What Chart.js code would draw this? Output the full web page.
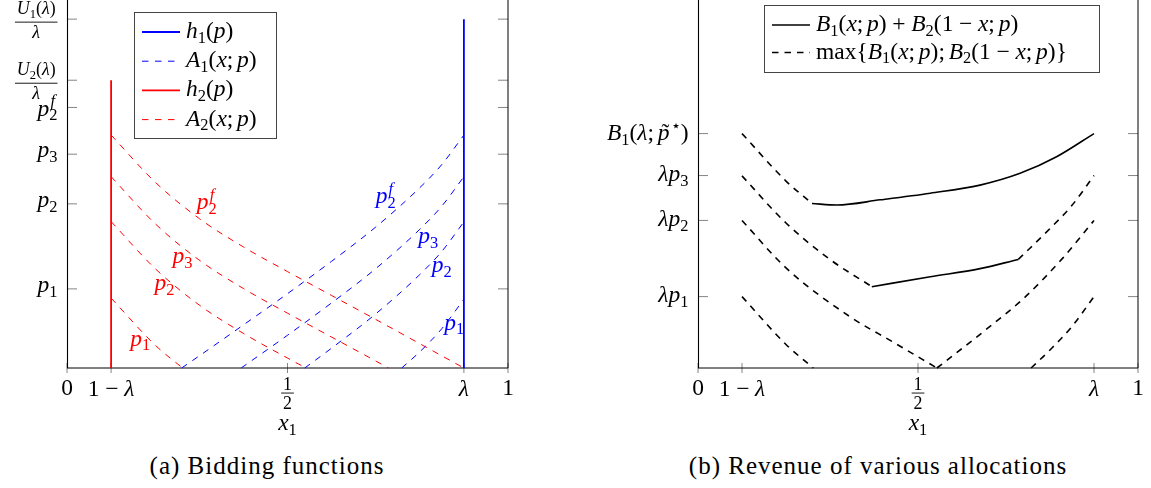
<!DOCTYPE html>
<html>
<head>
<meta charset="utf-8">
<script src="https://cdn.jsdelivr.net/npm/chart.js@4.4.1/dist/chart.umd.min.js"></script>
<style>
  html, body { margin: 0; padding: 0; background: #fff; }
  body { width: 1151px; height: 488px; position: relative; overflow: hidden; }
  canvas { position: absolute; top: 0; }
  #ca { left: 0; }
  #cb { left: 575px; }
  .cap { position: absolute; top: 453px; font-family: "Liberation Serif", "Times New Roman", serif;
         font-size: 25px; line-height: 25px; letter-spacing: 1px; white-space: nowrap; color: #000;
         transform: translateX(-50%); }
</style>
</head>
<body>
<canvas id="ca" width="575" height="440"></canvas>
<canvas id="cb" width="576" height="440"></canvas>
<div class="cap" style="left:267px">(a) Bidding functions</div>
<div class="cap" style="left:878px">(b) Revenue of various allocations</div>
<script>
// ================= DATA =================
// shared x axis (x1)
const xTickValues = [0, 0.1, 0.5, 0.9, 1];
const xTickLabels = ['0', '1 − λ', 'frac:1|2', 'λ', '1'];

// ---- panel (a): bidding functions ----
const aYTickValues = [94.8, 78.2, 70.8, 58.1, 44.6, 21.5];
const aYTickLabels = ['frac:U_1(λ)|λ', 'frac:U_2(λ)|λ', 'p_2^f', 'p_3', 'p_2', 'p_1'];

const h1X = [0.9, 0.9];
const h1Y = [0, 94.8];
const h2X = [0.1, 0.1];
const h2Y = [0, 78.2];

// A1(x;p) (blue) for p = p2^f, p3, p2, p1
const A1_p2f_x = [0.26, 0.3, 0.4, 0.5, 0.6, 0.7, 0.8, 0.85, 0.9];
const A1_p2f_y = [0, 3.3, 11.7, 20.2, 29.0, 38.3, 49.0, 55.3, 63.3];
const A1_p3_x = [0.395, 0.5, 0.6, 0.7, 0.8, 0.85, 0.9];
const A1_p3_y = [0, 8.9, 17.7, 27.0, 37.7, 44.0, 52.0];
const A1_p2_x = [0.539, 0.6, 0.7, 0.8, 0.85, 0.9];
const A1_p2_y = [0, 5.4, 14.7, 25.4, 31.7, 39.7];
const A1_p1_x = [0.759, 0.8, 0.85, 0.9];
const A1_p1_y = [0, 4.4, 10.7, 18.7];

// A2(x;p) (red) for p = p2^f, p3, p2, p1
const A2_p2f_x = [0.1, 0.2, 0.3, 0.4, 0.5, 0.6, 0.7, 0.8, 0.9];
const A2_p2f_y = [63.3, 50.5, 40.6, 32.9, 26.2, 19.7, 13.2, 6.6, 0];
const A2_p3_x = [0.1, 0.2, 0.3, 0.4, 0.5, 0.6, 0.7, 0.729];
const A2_p3_y = [52.0, 39.2, 29.3, 21.6, 14.9, 8.4, 1.9, 0];
const A2_p2_x = [0.1, 0.2, 0.3, 0.4, 0.5, 0.542];
const A2_p2_y = [39.8, 27.0, 17.1, 9.4, 2.7, 0];
const A2_p1_x = [0.1, 0.2, 0.262];
const A2_p1_y = [19.0, 6.2, 0];

// ---- panel (b): revenue of various allocations ----
const bYTickValues = [63.7, 52.3, 40.1, 19.4];
const bYTickLabels = ['B_1(λ;\u2009~p^⋆)', 'λp_3', 'λp_2', 'λp_1'];

// B1(x;p)+B2(1-x;p)
const sumHigh_x = [0.259, 0.316, 0.414, 0.528, 0.641, 0.732, 0.815, 0.9];
const sumHigh_y = [44.7, 44.3, 45.7, 47.5, 49.7, 52.9, 57.4, 63.7];
const sumMid_x = [0.395, 0.528, 0.641, 0.728];
const sumMid_y = [22.1, 24.8, 27.0, 29.5];
// max{B1(x;p); B2(1-x;p)}
const maxHighL_x = [0.1, 0.2, 0.259];
const maxHighL_y = [63.7, 50.8, 44.7];
const maxMidL_x = [0.1, 0.2, 0.3, 0.395];
const maxMidL_y = [52.2, 39.4, 29.5, 22.1];
const maxMidR_x = [0.728, 0.8, 0.85, 0.9];
const maxMidR_y = [29.5, 37.9, 44.2, 52.3];
const maxLowL_x = [0.1, 0.2, 0.346, 0.444, 0.543];
const maxLowL_y = [40.1, 27.2, 13.9, 7.0, 0];
const maxLowR_x = [0.543, 0.649, 0.74, 0.83, 0.9];
const maxLowR_y = [0, 9.9, 18.9, 30.0, 40.1];
const maxBotL_x = [0.1, 0.2, 0.262];
const maxBotL_y = [19.4, 6.4, 0];
const maxBotR_x = [0.757, 0.8, 0.85, 0.9];
const maxBotR_y = [0, 4.9, 11.3, 19.4];

// ================= MATH TEXT =================
const FAMILY = '"Liberation Serif", "Times New Roman", Times, "DejaVu Serif", serif';
const ITALIC_RE = /[A-Za-z\u03B1-\u03C9]/;
function fnt(size, italic) { return (italic ? 'italic ' : '') + size.toFixed(2) + 'px ' + FAMILY; }

function parseMath(str) {
  const toks = []; let i = 0;
  const readArg = () => {
    if (str[i] === '{') { const j = str.indexOf('}', i); const g = str.slice(i + 1, j); i = j + 1; return g; }
    const c = str[i]; i += 1; return c;
  };
  while (i < str.length) {
    const c = str[i];
    if (c === '_' || c === '^') { i += 1; toks.push({ text: readArg(), lvl: c === '_' ? 'sub' : 'sup' }); }
    else if (c === '~') { i += 1; toks.push({ text: str[i], lvl: '', accent: true }); i += 1; }
    else if (str.startsWith('max', i)) { toks.push({ text: 'max', lvl: '', roman: true }); i += 3; }
    else { toks.push({ text: c, lvl: '' }); i += 1; }
  }
  return toks;
}

function layoutMath(ctx, str, size) {
  const toks = parseMath(str);
  const glyphs = [];
  let x = 0, prevLvl = '', scriptX = 0, baseItalic = false, asc = 0, desc = 0;
  for (const t of toks) {
    const s = t.lvl ? size * 0.7 : size;
    const dy = t.lvl === 'sub' ? size * 0.2 : (t.lvl === 'sup' ? -size * 0.4 : 0);
    const stacked = t.lvl && prevLvl && prevLvl !== t.lvl;
    let cx;
    if (stacked) cx = scriptX; else { cx = x; if (t.lvl) scriptX = x; }
    if (t.lvl === 'sup' && baseItalic) cx += size * 0.05;
    for (const ch of t.text) {
      if (ch === ' ') { cx += size * 0.24; continue; }
      if (ch === '\u2009') { cx += size * 0.16; continue; }
      const it = !t.roman && ITALIC_RE.test(ch);
      ctx.font = fnt(s, it);
      const m = ctx.measureText(ch);
      glyphs.push({ ch, x: cx, dy, size: s, it, accent: !!t.accent, w: m.width });
      asc = Math.max(asc, m.actualBoundingBoxAscent - dy);
      desc = Math.max(desc, m.actualBoundingBoxDescent + dy);
      if (t.accent) asc = Math.max(asc, s * 0.7);
      cx += m.width;
      if (!t.lvl) baseItalic = it;
    }
    if (stacked) x = Math.max(x, cx); else x = cx;
    prevLvl = t.lvl;
  }
  return { glyphs, width: x, asc, desc };
}

function paintLayout(ctx, L, x0, base, color) {
  ctx.fillStyle = color; ctx.textBaseline = 'alphabetic'; ctx.textAlign = 'left';
  for (const g of L.glyphs) {
    ctx.font = fnt(g.size, g.it);
    ctx.fillText(g.ch, x0 + g.x, base + g.dy);
    if (g.accent) {
      ctx.font = fnt(g.size, false);
      ctx.textAlign = 'center';
      ctx.fillText('\u02DC', x0 + g.x + g.w / 2 + g.size * 0.08, base + g.dy - g.size * 0.02);
      ctx.textAlign = 'left';
    }
  }
}

function drawMath(ctx, str, x, y, size, color, align, valign) {
  if (str.startsWith('frac:')) return drawFrac(ctx, str.slice(5), x, y, size, color, align, valign);
  const L = layoutMath(ctx, str, size);
  const x0 = align === 'right' ? x - L.width : (align === 'center' ? x - L.width / 2 : x);
  const base = valign === 'middle' ? y + (L.asc - L.desc) / 2 : (valign === 'top' ? y + L.asc : y);
  paintLayout(ctx, L, x0, base, color);
}

function drawFrac(ctx, body, x, y, size, color, align, valign) {
  const [n, d] = body.split('|');
  const s = size * 0.76, gap = size * 0.13, pad = size * 0.08;
  const N = layoutMath(ctx, n, s), D = layoutMath(ctx, d, s);
  const w = Math.max(N.width, D.width) + 2 * pad;
  const hTop = N.asc + N.desc + gap, hBot = gap + D.asc + D.desc;
  const barY = valign === 'top' ? y + hTop : y - (hBot - hTop) / 2;
  const x0 = align === 'right' ? x - w : (align === 'center' ? x - w / 2 : x);
  paintLayout(ctx, N, x0 + (w - N.width) / 2, barY - gap - N.desc, color);
  paintLayout(ctx, D, x0 + (w - D.width) / 2, barY + gap + D.asc, color);
  ctx.strokeStyle = color; ctx.lineWidth = 0.9;
  ctx.beginPath(); ctx.moveTo(x0, barY); ctx.lineTo(x0 + w, barY); ctx.stroke();
}

// ================= PLUGINS =================
const mathAxes = {
  id: 'mathAxes',
  beforeDatasetsDraw(chart, _a, o) {
    const { ctx, chartArea: a } = chart; const xs = chart.scales.x, ys = chart.scales.y;
    ctx.save();
    ctx.strokeStyle = o.tickColor; ctx.lineWidth = o.tickWidth;
    ctx.beginPath();
    o.yTicks.forEach(v => {
      const py = ys.getPixelForValue(v);
      ctx.moveTo(a.left, py); ctx.lineTo(a.left + o.tickLen, py);
      ctx.moveTo(a.right - o.tickLen, py); ctx.lineTo(a.right, py);
    });
    o.xTicks.forEach(v => {
      const px = xs.getPixelForValue(v);
      ctx.moveTo(px, a.bottom - o.xTickUp); ctx.lineTo(px, a.bottom + o.xTickDown);
    });
    ctx.stroke();
    ctx.strokeStyle = '#000'; ctx.lineWidth = 1;
    ctx.beginPath();
    ctx.moveTo(a.left, a.bottom); ctx.lineTo(a.right, a.bottom);
    ctx.moveTo(a.right, a.top); ctx.lineTo(a.right, a.bottom);
    ctx.stroke();
    ctx.lineWidth = 1.1;
    ctx.beginPath(); ctx.moveTo(a.left + 0.5, a.top); ctx.lineTo(a.left + 0.5, a.bottom); ctx.stroke();
    ctx.restore();
  },
  afterDraw(chart, _a, o) {
    const { ctx, chartArea: a } = chart; const xs = chart.scales.x, ys = chart.scales.y;
    ctx.save();
    o.yTicks.forEach((v, i) => drawMath(ctx, o.yLabels[i], a.left - o.yLabelGap, ys.getPixelForValue(v), o.size, '#000', 'right', 'middle'));
    o.xTicks.forEach((v, i) => {
      const lab = o.xLabels[i];
      const top = lab.startsWith('frac:') ? a.bottom + o.xFracTop : a.bottom + o.xLabelTop;
      drawMath(ctx, lab, xs.getPixelForValue(v), top, o.size, '#000', 'center', 'top');
    });
    drawMath(ctx, o.title, (a.left + a.right) / 2, a.bottom + o.titleTop, o.size, '#000', 'center', 'top');
    (o.curveLabels || []).forEach(c => drawMath(ctx, c.text, xs.getPixelForValue(c.x), ys.getPixelForValue(c.y), o.size, c.color, 'center', 'middle'));
    ctx.restore();
  }
};

const boxLegend = {
  id: 'boxLegend',
  afterDatasetsDraw(chart, _a, o) {
    const ctx = chart.ctx; ctx.save();
    ctx.fillStyle = '#fff'; ctx.fillRect(o.x, o.y, o.w, o.h);
    ctx.strokeStyle = o.borderColor; ctx.lineWidth = 1;
    ctx.strokeRect(o.x + 0.5, o.y + 0.5, o.w, o.h);
    chart.data.datasets.filter(d => d.inLegend).forEach((d, i) => {
      const cy = o.y + o.firstRow + i * o.rowGap;
      ctx.strokeStyle = d.borderColor; ctx.lineWidth = d.borderWidth;
      ctx.setLineDash(d.borderDash || []);
      ctx.beginPath(); ctx.moveTo(o.x + o.lineX0, cy); ctx.lineTo(o.x + o.lineX1, cy); ctx.stroke();
      ctx.setLineDash([]);
      drawMath(ctx, d.label, o.x + o.textX, cy, o.size, '#000', 'left', 'middle');
    });
    ctx.restore();
  }
};

// ================= CHARTS =================
function pts(xs, ys) { return xs.map((x, i) => ({ x, y: ys[i] })); }
const RED = '#ff0000', BLUE = '#0000ff', BLACK = '#000000';
function curve(label, xs, ys, color, width, dash, inLegend) {
  return { label, data: pts(xs, ys), borderColor: color, borderWidth: width, borderDash: dash,
           pointRadius: 0, tension: 0.4, cubicInterpolationMode: 'monotone', fill: false, clip: false,
           inLegend: !!inLegend };
}
function vline(label, xs, ys, color, width, inLegend) {
  return { label, data: pts(xs, ys), borderColor: color, borderWidth: width, borderDash: [],
           pointRadius: 0, tension: 0, fill: false, clip: false, inLegend: !!inLegend };
}
const thinDash = [6.5, 6.5];
const boldDash = [6.5, 6];
const THIN = 1.0;

function baseOptions(padLeft, padRight, axesOpts, legendOpts) {
  return {
    responsive: false, animation: false, devicePixelRatio: 1, events: [],
    layout: { padding: { left: padLeft, right: padRight, top: 0, bottom: 72 } },
    scales: {
      x: { type: 'linear', min: 0, max: 1, display: false },
      y: { type: 'linear', min: 0, max: 100, display: false }
    },
    plugins: { legend: { display: false }, tooltip: { enabled: false },
               mathAxes: axesOpts, boxLegend: legendOpts }
  };
}

const TXT = 23.5;
const commonAxes = { xTicks: xTickValues, xLabels: xTickLabels, title: 'x_1', size: TXT,
  tickLen: 10, tickWidth: 0.8, tickColor: '#666', xTickUp: 5, xTickDown: 5,
  yLabelGap: 9.5, xLabelTop: 12, xFracTop: 9, titleTop: 51 };

new Chart(document.getElementById('ca'), {
  type: 'line',
  data: { datasets: [
    vline('h_1(p)', h1X, h1Y, BLUE, 1.8, true),
    curve('A_1(x;\u2009p)', A1_p2f_x, A1_p2f_y, BLUE, THIN, thinDash, true),
    curve('', A1_p3_x, A1_p3_y, BLUE, THIN, thinDash),
    curve('', A1_p2_x, A1_p2_y, BLUE, THIN, thinDash),
    curve('', A1_p1_x, A1_p1_y, BLUE, THIN, thinDash),
    vline('h_2(p)', h2X, h2Y, RED, 1.8, true),
    curve('A_2(x;\u2009p)', A2_p2f_x, A2_p2f_y, RED, THIN, thinDash, true),
    curve('', A2_p3_x, A2_p3_y, RED, THIN, thinDash),
    curve('', A2_p2_x, A2_p2_y, RED, THIN, thinDash),
    curve('', A2_p1_x, A2_p1_y, RED, THIN, thinDash)
  ] },
  options: baseOptions(67, 67,
    Object.assign({}, commonAxes, { yTicks: aYTickValues, yLabels: aYTickLabels,
      curveLabels: [
        { text: 'p_2^f', x: 0.317, y: 45.4, color: RED },
        { text: 'p_3', x: 0.262, y: 29.3, color: RED },
        { text: 'p_2', x: 0.221, y: 21.9, color: RED },
        { text: 'p_1', x: 0.166, y: 6.9, color: RED },
        { text: 'p_2^f', x: 0.7226, y: 47.0, color: BLUE },
        { text: 'p_3', x: 0.819, y: 34.8, color: BLUE },
        { text: 'p_2', x: 0.8495, y: 26.8, color: BLUE },
        { text: 'p_1', x: 0.878, y: 11.2, color: BLUE }
      ] }),
    { x: 134, y: 12, w: 142, h: 126, firstRow: 20, rowGap: 29.2, lineX0: 8, lineX1: 46, textX: 52,
      size: TXT, borderColor: '#444' }),
  plugins: [mathAxes, boxLegend]
});

new Chart(document.getElementById('cb'), {
  type: 'line',
  data: { datasets: [
    curve('B_1(x;\u2009p) + B_2(1 − x;\u2009p)', sumHigh_x, sumHigh_y, BLACK, 1.6, [], true),
    curve('max{B_1(x;\u2009p);\u2009B_2(1 − x;\u2009p)}', maxHighL_x, maxHighL_y, BLACK, 1.6, boldDash, true),
    curve('', sumMid_x, sumMid_y, BLACK, 1.6, []),
    curve('', maxMidL_x, maxMidL_y, BLACK, 1.6, boldDash),
    curve('', maxMidR_x, maxMidR_y, BLACK, 1.6, boldDash),
    curve('', maxLowL_x, maxLowL_y, BLACK, 1.6, boldDash),
    curve('', maxLowR_x, maxLowR_y, BLACK, 1.6, boldDash),
    curve('', maxBotL_x, maxBotL_y, BLACK, 1.6, boldDash),
    curve('', maxBotR_x, maxBotR_y, BLACK, 1.6, boldDash)
  ] },
  options: baseOptions(123, 13,
    Object.assign({}, commonAxes, { yTicks: bYTickValues, yLabels: bYTickLabels, curveLabels: [] }),
    { x: 189, y: 5, w: 335, h: 67, firstRow: 20, rowGap: 27.5, lineX0: 8, lineX1: 46, textX: 52,
      size: TXT, borderColor: '#444' }),
  plugins: [mathAxes, boxLegend]
});
</script>
</body>
</html>
